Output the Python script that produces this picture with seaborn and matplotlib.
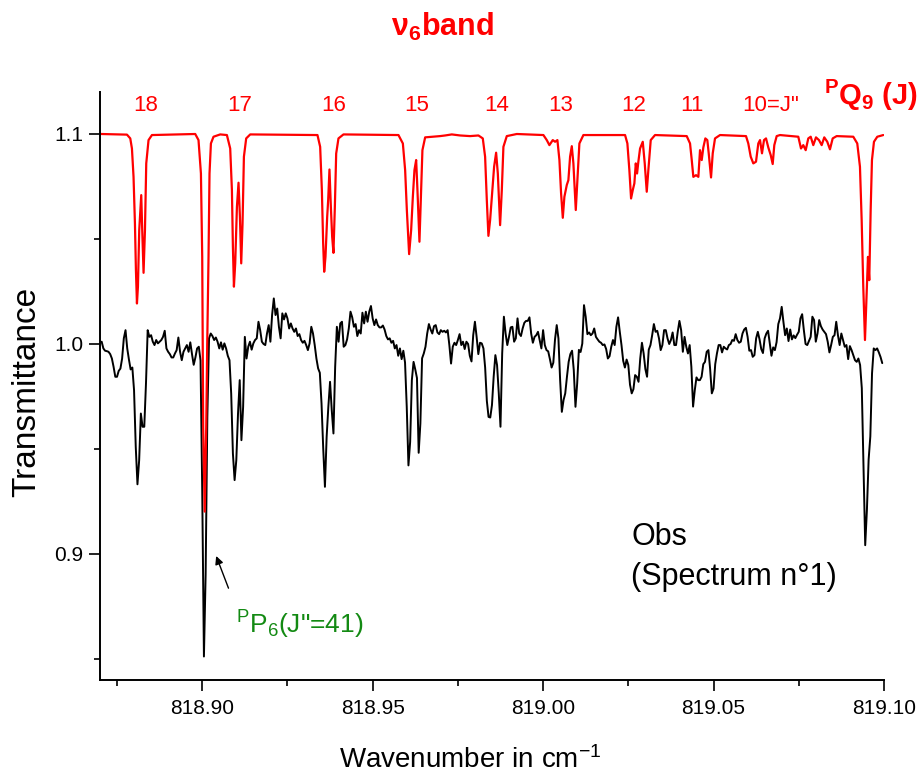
import numpy as np
import pandas as pd
import matplotlib
matplotlib.use("Agg")
import matplotlib.pyplot as plt
from matplotlib.ticker import MultipleLocator, FormatStrFormatter
import seaborn as sns

# ---------------- data ----------------
obs_start = 818.8705
obs_step = 0.0005
obs_trans = [
    1.0009, 0.9977, 0.9966, 0.9964, 0.9961, 0.9950, 0.9929, 0.9889, 0.9842, 0.9842,
    0.9870, 0.9881, 0.9929, 1.0025, 1.0064, 0.9977, 0.9924, 0.9877, 0.9886, 0.9778,
    0.9508, 0.9330, 0.9445, 0.9667, 0.9604, 0.9604, 0.9810, 1.0064, 1.0032, 1.0040,
    1.0009, 0.9993, 1.0017, 1.0001, 1.0009, 1.0017, 1.0032, 1.0061, 0.9977, 0.9961,
    0.9950, 0.9934, 0.9934, 0.9953, 0.9969, 1.0029, 0.9961, 0.9921, 0.9961, 0.9977,
    0.9993, 0.9961, 1.0006, 0.9950, 0.9899, 0.9934, 0.9977, 0.9985, 0.9920, 0.9300,
    0.8510, 0.8900, 0.9650, 1.0025, 1.0048, 1.0036, 1.0017, 1.0029, 1.0009, 0.9977,
    1.0006, 0.9971, 1.0001, 0.9977, 0.9942, 0.9921, 0.9762, 0.9477, 0.9350, 0.9445,
    0.9667, 0.9826, 0.9540, 0.9699, 1.0032, 0.9929, 0.9985, 1.0009, 0.9971, 1.0001,
    1.0017, 1.0025, 1.0104, 1.0064, 1.0009, 0.9998, 0.9993, 1.0048, 1.0088, 1.0009,
    1.0136, 1.0215, 1.0136, 1.0167, 1.0080, 1.0025, 1.0144, 1.0115, 1.0144, 1.0120,
    1.0072, 1.0096, 1.0072, 1.0056, 1.0072, 1.0036, 1.0045, 1.0017, 1.0004, 1.0013,
    0.9993, 0.9969, 1.0001, 1.0080, 1.0048, 0.9993, 0.9929, 0.9882, 0.9861, 0.9715,
    0.9500, 0.9318, 0.9556, 0.9699, 0.9818, 0.9683, 0.9572, 0.9889, 1.0080, 1.0009,
    1.0096, 1.0104, 0.9985, 0.9993, 1.0020, 1.0072, 1.0152, 1.0125, 1.0080, 1.0093,
    1.0036, 1.0064, 1.0048, 1.0147, 1.0096, 1.0152, 1.0104, 1.0152, 1.0179, 1.0120,
    1.0088, 1.0115, 1.0088, 1.0077, 1.0077, 1.0086, 1.0067, 1.0036, 1.0020, 1.0025,
    1.0004, 1.0013, 0.9977, 0.9993, 0.9942, 0.9977, 0.9926, 0.9966, 0.9910, 0.9699,
    0.9420, 0.9532, 0.9826, 0.9913, 0.9877, 0.9836, 0.9480, 0.9620, 0.9930, 0.9953,
    0.9985, 1.0048, 1.0093, 1.0067, 1.0048, 1.0083, 1.0088, 1.0053, 1.0045, 1.0064,
    1.0056, 1.0061, 1.0053, 1.0064, 0.9993, 0.9905, 0.9985, 1.0004, 0.9993, 1.0017,
    1.0045, 0.9993, 1.0009, 0.9974, 1.0009, 0.9998, 0.9942, 0.9915, 1.0040, 1.0104,
    1.0032, 0.9950, 1.0004, 1.0001, 0.9977, 0.9886, 0.9727, 0.9651, 0.9648, 0.9707,
    0.9842, 0.9945, 0.9897, 0.9763, 0.9604, 0.9953, 1.0128, 1.0048, 0.9993, 1.0032,
    1.0077, 1.0080, 1.0009, 1.0025, 1.0120, 1.0048, 1.0036, 1.0072, 1.0099, 1.0108,
    1.0108, 1.0125, 1.0048, 1.0004, 1.0032, 1.0040, 1.0056, 1.0017, 0.9977, 1.0064,
    0.9993, 0.9969, 0.9963, 0.9926, 0.9886, 0.9909, 1.0020, 1.0088, 1.0025, 0.9826,
    0.9675, 0.9731, 0.9763, 0.9842, 0.9913, 0.9950, 0.9966, 0.9874, 0.9699, 0.9810,
    0.9970, 0.9960, 1.0000, 1.0183, 1.0128, 1.0045, 1.0053, 1.0040, 1.0048, 1.0072,
    1.0032, 1.0020, 1.0009, 1.0004, 0.9993, 0.9996, 0.9974, 0.9929, 0.9940, 0.9985,
    1.0017, 0.9993, 1.0080, 1.0125, 1.0056, 0.9993, 0.9918, 0.9886, 0.9924, 0.9898,
    0.9804, 0.9763, 0.9783, 0.9850, 0.9842, 0.9818, 0.9929, 1.0004, 0.9953, 0.9879,
    0.9842, 0.9971, 0.9993, 1.0040, 1.0093, 1.0056, 1.0061, 1.0025, 0.9969, 0.9993,
    1.0064, 1.0064, 1.0025, 0.9998, 1.0017, 1.0053, 0.9993, 0.9993, 1.0056, 1.0108,
    1.0064, 0.9961, 1.0032, 0.9985, 0.9953, 0.9993, 0.9889, 0.9700, 0.9778, 0.9839,
    0.9826, 0.9826, 0.9842, 0.9902, 0.9913, 0.9961, 0.9969, 0.9880, 0.9763, 0.9786,
    0.9902, 0.9953, 0.9993, 0.9993, 0.9958, 0.9985, 0.9977, 0.9972, 0.9993, 0.9998,
    1.0017, 1.0013, 1.0045, 1.0017, 1.0004, 1.0009, 1.0048, 1.0067, 1.0075, 1.0032,
    0.9966, 0.9969, 0.9937, 0.9945, 1.0025, 1.0056, 1.0020, 0.9974, 0.9955, 1.0025,
    1.0048, 1.0061, 1.0001, 0.9942, 0.9982, 0.9969, 1.0007, 1.0093, 1.0120, 1.0175,
    1.0104, 1.0040, 1.0072, 1.0012, 1.0067, 1.0020, 1.0039, 1.0026, 1.0042, 1.0056,
    1.0120, 1.0140, 1.0064, 0.9998, 0.9993, 1.0013, 1.0032, 1.0128, 1.0112, 1.0009,
    1.0048, 1.0112, 1.0083, 1.0067, 1.0056, 1.0045, 1.0009, 0.9958, 0.9993, 1.0032,
    1.0040, 1.0104, 1.0040, 0.9993, 1.0048, 1.0017, 0.9985, 0.9993, 0.9926, 0.9988,
    0.9969, 0.9945, 0.9921, 0.9913, 0.9929, 0.9898, 0.9788, 0.9415, 0.9040, 0.9208,
    0.9447, 0.9558, 0.9858, 0.9977, 0.9969, 0.9977, 0.9958, 0.9936, 0.9907,
]

# Calculated spectrum (offset +0.1): vertices
calc_wn = [
    818.87030, 818.87792, 818.87889, 818.87938, 818.87985, 818.88026, 818.88055, 818.88085,
    818.88114, 818.88152, 818.88211, 818.88240, 818.88279, 818.88320, 818.88358, 818.88425,
    818.88525,
    818.89795, 818.89891, 818.89962, 818.90000, 818.90015, 818.90029, 818.90073, 818.90117,
    818.90147, 818.90185, 818.90214, 818.90255, 818.90331, 818.90528,
    818.90724, 818.90821, 818.90871, 818.90900, 818.90930, 818.90968, 818.91018, 818.91065,
    818.91106, 818.91144, 818.91183, 818.91223, 818.91290, 818.91408,
    818.93381, 818.93460, 818.93510, 818.93548, 818.93578, 818.93616, 818.93666, 818.93695,
    818.93733, 818.93774, 818.93812, 818.93850, 818.93891, 818.93930, 818.93997, 818.94144,
    818.95757, 818.95886, 818.95953, 818.96003, 818.96070, 818.96129, 818.96179, 818.96226,
    818.96276, 818.96314, 818.96373, 818.96413, 818.96460, 818.96540,
    818.96979, 818.97126, 818.97322, 818.97566, 818.97859, 818.98103,
    818.98231, 818.98299, 818.98349, 818.98396, 818.98446, 818.98496, 818.98563, 818.98622,
    818.98672, 818.98739, 818.98789, 818.98836, 818.98935, 818.99229,
    819.00009, 819.00108, 819.00185, 819.00284, 819.00352, 819.00420, 819.00479, 819.00528,
    819.00578, 819.00625, 819.00695, 819.00742, 819.00792, 819.00842, 819.00889, 819.00959,
    819.01018, 819.01065, 819.01182,
    819.02405, 819.02473, 819.02531, 819.02581, 819.02631, 819.02678, 819.02719, 819.02757,
    819.02795, 819.02845, 819.02924, 819.02982, 819.03041, 819.03088, 819.03158, 819.03284,
    819.04214, 819.04311, 819.04361, 819.04408, 819.04487, 819.04555, 819.04604, 819.04654,
    819.04701, 819.04760, 819.04818, 819.04859, 819.04927, 819.04977, 819.05044, 819.05191,
    819.05953, 819.06020, 819.06091, 819.06167, 819.06246, 819.06314, 819.06364, 819.06422,
    819.06481, 819.06540, 819.06607, 819.06677, 819.06736, 819.06783, 819.06853, 819.06950,
    819.07487, 819.07566, 819.07633, 819.07704, 819.07780, 819.07851, 819.07927, 819.08006,
    819.08094, 819.08173, 819.08249, 819.08337, 819.08416, 819.08496, 819.08613,
    819.09100, 819.09217, 819.09296, 819.09346, 819.09393, 819.09443, 819.09493, 819.09531,
    819.09569, 819.09610, 819.09648, 819.09707, 819.09804, 819.09980,
]
calc_trans = [
    1.0998, 1.0995, 1.0977, 1.0929, 1.0794, 1.0572, 1.0350, 1.0191,
    1.0271, 1.0540, 1.0707, 1.0540, 1.0337, 1.0540, 1.0858, 1.0969,
    1.0993,
    1.0998, 1.0969, 1.0810, 1.0413, 1.0000, 0.9600, 0.9200, 0.9600,
    1.0000, 1.0413, 1.0810, 1.0953, 1.0985, 1.0996,
    1.0993, 1.0929, 1.0731, 1.0461, 1.0271, 1.0382, 1.0651, 1.0766,
    1.0604, 1.0382, 1.0572, 1.0890, 1.0977, 1.0996,
    1.0993, 1.0937, 1.0731, 1.0477, 1.0342, 1.0413, 1.0604, 1.0683,
    1.0829, 1.0651, 1.0509, 1.0432, 1.0651, 1.0905, 1.0977, 1.0996,
    1.0993, 1.0953, 1.0826, 1.0636, 1.0426, 1.0540, 1.0699, 1.0826,
    1.0874, 1.0731, 1.0485, 1.0683, 1.0921, 1.0982,
    1.0988, 1.0991, 1.0996, 1.0991, 1.0988, 1.0991,
    1.0977, 1.0890, 1.0683, 1.0513, 1.0588, 1.0699, 1.0842, 1.0909,
    1.0810, 1.0564, 1.0731, 1.0937, 1.0988, 1.0998,
    1.0993, 1.0969, 1.0945, 1.0969, 1.0961, 1.0969, 1.0874, 1.0715,
    1.0599, 1.0699, 1.0755, 1.0778, 1.0890, 1.0940, 1.0858, 1.0636,
    1.0810, 1.0953, 1.0993,
    1.0993, 1.0953, 1.0826, 1.0691, 1.0731, 1.0763, 1.0858, 1.0810,
    1.0866, 1.0929, 1.0961, 1.0858, 1.0723, 1.0826, 1.0969, 1.0993,
    1.0988, 1.0953, 1.0874, 1.0794, 1.0802, 1.0794, 1.0921, 1.0874,
    1.0934, 1.0977, 1.0969, 1.0906, 1.0791, 1.0906, 1.0977, 1.0993,
    1.0988, 1.0953, 1.0890, 1.0858, 1.0866, 1.0953, 1.0969, 1.0906,
    1.0969, 1.0977, 1.0934, 1.0898, 1.0855, 1.0945, 1.0988, 1.0993,
    1.0985, 1.0929, 1.0945, 1.0921, 1.0977, 1.0985, 1.0945, 1.0982,
    1.0969, 1.0945, 1.0982, 1.0961, 1.0925, 1.0977, 1.0988,
    1.0985, 1.0953, 1.0842, 1.0588, 1.0271, 1.0017, 1.0239, 1.0413,
    1.0302, 1.0636, 1.0874, 1.0961, 1.0985, 1.0993,
]

# J labels of the PQ9(J) clusters
j_labels = ["18", "17", "16", "15", "14", "13", "12", "11", '10=J"']
j_label_wn = [818.8833, 818.9111, 818.9387, 818.9630, 818.9865, 819.0053, 819.0267, 819.0437, 819.0669]

# ---------------- style ----------------
sns.set_style("ticks")
plt.rcParams["font.family"] = ["Liberation Sans", "DejaVu Sans"]
plt.rcParams["mathtext.fontset"] = "custom"
plt.rcParams["mathtext.rm"] = "Liberation Sans"
plt.rcParams["mathtext.it"] = "Liberation Sans:italic"
plt.rcParams["mathtext.bf"] = "Liberation Sans:bold"
plt.rcParams["mathtext.default"] = "regular"
plt.rcParams["text.color"] = "black"
plt.rcParams["axes.labelcolor"] = "black"

RED = "#ff0000"
GREEN = "#138a13"

fig = plt.figure(figsize=(9.23, 7.77), dpi=100)
ax = fig.add_axes([0.1083, 0.1248, 0.8494, 0.7568])

obs_wn = obs_start + obs_step * np.arange(len(obs_trans))
df_obs = pd.DataFrame({"wn": obs_wn, "T": obs_trans})
df_calc = pd.DataFrame({"wn": calc_wn, "T": calc_trans})

sns.lineplot(data=df_obs, x="wn", y="T", ax=ax, color="black", lw=1.4,
             estimator=None, sort=False)
sns.lineplot(data=df_calc, x="wn", y="T", ax=ax, color=RED, lw=1.6,
             estimator=None, sort=False)

ax.set_xlim(818.87, 819.10)
ax.set_ylim(0.8398, 1.1198)

ax.xaxis.set_major_locator(MultipleLocator(0.05))
ax.xaxis.set_minor_locator(MultipleLocator(0.025))
ax.xaxis.set_major_formatter(FormatStrFormatter("%.2f"))
ax.yaxis.set_major_locator(MultipleLocator(0.1))
ax.yaxis.set_minor_locator(MultipleLocator(0.05))
ax.yaxis.set_major_formatter(FormatStrFormatter("%.1f"))

for s in ["top", "right"]:
    ax.spines[s].set_visible(False)
for s in ["left", "bottom"]:
    ax.spines[s].set_linewidth(1.4)
    ax.spines[s].set_color("black")

ax.tick_params(axis="both", which="major", direction="out", length=8, width=1.2,
               labelsize=15, colors="black")
ax.tick_params(axis="both", which="minor", direction="out", length=4.5, width=1.2,
               colors="black")
ax.tick_params(axis="x", which="major", pad=6)
ax.tick_params(axis="y", which="major", pad=4)

ax.set_xlabel("Wavenumber in cm$^{-1}$", fontsize=20, color="black")
ax.set_ylabel("Transmittance", fontsize=24, color="black")
ax.xaxis.set_label_coords(0.472, -0.112)
ax.yaxis.set_label_coords(-0.074, 0.49)

# J labels
for lab, xw in zip(j_labels, j_label_wn):
    ax.text(xw, 1.1136, lab, color=RED, fontsize=16, ha="center", va="center",
            clip_on=False)
ax.text(819.0825, 1.1183, r"$^{\mathbf{P}}$Q$_{\mathbf{9}}$ (J)", color=RED,
        fontsize=21, fontweight="bold", ha="left", va="center", clip_on=False)

# band title
fig.text(0.479, 0.965, r"ν$_{\mathbf{6}}$band", color=RED, fontsize=22,
         fontweight="bold", ha="center", va="center")

# Obs label
ax.text(819.0258, 0.9079, "Obs", fontsize=22, ha="left", va="center", color="black")
ax.text(819.0258, 0.8888, "(Spectrum n°1)", fontsize=22, ha="left", va="center",
        color="black")

# P6(J"=41) annotation
ax.annotate("", xy=(818.9038, 0.9001), xytext=(818.9080, 0.8823),
            arrowprops=dict(arrowstyle="-|>", color="black", lw=1.0,
                            mutation_scale=12))
ax.text(818.9100, 0.8660, r'$^{P}$P$_{6}$(J"=41)', color=GREEN, fontsize=19,
        ha="left", va="center")

fig.savefig("out.png", dpi=100)
